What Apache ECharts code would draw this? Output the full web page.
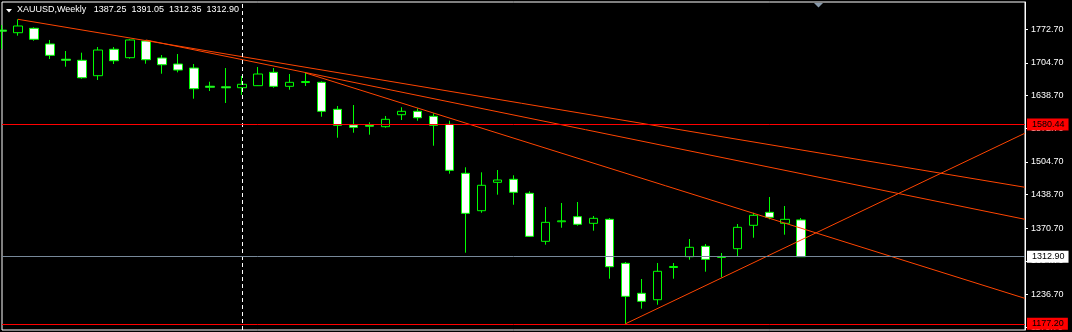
<!DOCTYPE html>
<html><head><meta charset="utf-8">
<script src="https://cdn.jsdelivr.net/npm/echarts@6/dist/echarts.min.js"></script>
<style>html,body{margin:0;padding:0;background:#000;}#c{width:1072px;height:332px;}</style>
</head><body><div id="c"></div>
<script>
// Weekly bar slots (51 bars + empty right-hand shift area)
const categories = ["0","1","2","3","4","5","6","7","8","9","10","11","12","13","14","15","16","17","18","19","20","21","22","23","24","25","26","27","28","29","30","31","32","33","34","35","36","37","38","39","40","41","42","43","44","45","46","47","48","49","50","51","52","53","54","55","56","57","58","59","60","61","62","63","64"];

const opens  = [1771.0,1765.8,1774.7,1743.0,1712.2,1710.0,1678.9,1732.3,1715.3,1749.0,1714.7,1702.5,1694.4,1657.6,1656.4,1654.6,1658.7,1685.7,1657.4,1665.1,1665.5,1610.9,1579.2,1578.8,1575.8,1600.0,1606.9,1596.8,1580.6,1481.5,1405.9,1463.3,1469.4,1441.1,1344.0,1383.6,1393.8,1380.4,1388.5,1299.5,1238.9,1225.9,1291.1,1312.9,1333.9,1311.4,1329.1,1376.4,1402.6,1380.4,1387.25];
const highs  = [1781.4,1792.9,1776.7,1751.1,1728.8,1725.4,1736.9,1736.9,1752.5,1751.1,1720.7,1722.7,1702.5,1666.7,1694.4,1678.3,1696.5,1694.4,1682.3,1684.4,1667.5,1617.6,1619.6,1584.6,1597.4,1615.0,1613.0,1602.8,1587.9,1493.7,1483.5,1488.2,1477.5,1445.1,1413.4,1421.5,1423.5,1395.2,1391.1,1302.2,1267.8,1300.2,1300.2,1348.7,1338.6,1320.4,1379.0,1401.8,1433.6,1415.4,1391.05];
const lows   = [1733.0,1759.8,1749.6,1712.6,1697.1,1672.8,1670.2,1702.5,1713.2,1703.1,1682.9,1685.7,1632.4,1647.9,1623.7,1639.9,1658.0,1654.6,1650.6,1658.1,1596.0,1553.5,1563.6,1559.6,1573.7,1589.3,1587.9,1537.3,1480.7,1321.0,1401.8,1438.3,1418.0,1353.0,1337.2,1371.5,1375.6,1365.5,1268.4,1177.2,1207.8,1215.8,1268.4,1306.8,1282.6,1271.2,1314.3,1351.3,1388.5,1357.4,1312.35];
const closes = [1769.0,1779.4,1752.5,1720.1,1710.2,1674.8,1730.8,1709.2,1751.1,1711.2,1701.1,1690.4,1652.6,1655.6,1654.4,1661.5,1682.3,1657.4,1665.5,1667.1,1606.9,1578.6,1574.5,1576.8,1590.7,1606.9,1593.9,1578.6,1487.6,1400.6,1457.3,1468.0,1443.1,1354.1,1382.4,1385.4,1378.4,1390.5,1292.7,1232.8,1222.7,1283.4,1293.1,1331.9,1307.6,1313.4,1372.3,1396.6,1392.6,1388.5,1312.90];

const yTicks = [1170.70,1236.70,1304.70,1370.70,1438.70,1504.70,1572.70,1638.70,1704.70,1772.70];

// trend lines: [slot, price]
const trendA = [[1,1792.9],[64,1453.3]];
const trendB = [[9,1751.1],[64,1388.5]];
const trendC = [[19,1684.4],[64,1228.6]];
const trendD = [[39,1177.2],[64,1562.7]];

const levelUpper = 1580.44;
const levelLower = 1177.20;
const bidPrice = 1312.90;
const separatorSlot = 15;

const titleText = "XAUUSD,Weekly   1387.25  1391.05  1312.35  1312.90";

const candleData = opens.map((o, i) => [o, closes[i], lows[i], highs[i]]);

const FONT = 'Liberation Sans';
const tagLabel = (bg, fg) => ({
  show: true, position: 'end', distance: 2,
  formatter: p => Number(p.value).toFixed(2),
  backgroundColor: bg, color: fg, padding: [2, 4, 1, 5],
  fontSize: 9, fontFamily: FONT
});

const trendSeries = (d) => ({
  type: 'line', data: d, symbol: 'none', silent: true,
  lineStyle: { color: '#ff4500', width: 1 }, z: 3
});

const chart = echarts.init(document.getElementById('c'), null, { renderer: 'canvas' });
chart.setOption({
  backgroundColor: '#000',
  animation: false,
  title: {
    text: titleText, left: 17, top: 5, padding: 0,
    textStyle: { color: '#fff', fontSize: 9, fontFamily: FONT, fontWeight: 'normal' }
  },
  graphic: [
    { type: 'polygon', shape: { points: [[6, 9], [12, 9], [9, 12.5]] }, style: { fill: '#fff' } },
    { type: 'polygon', shape: { points: [[814, 3], [823, 3], [818.5, 7.5]] }, style: { fill: '#8899aa' } }
  ],
  grid: { left: 2, right: 47, top: 2, bottom: 2, show: true, borderColor: '#fff', borderWidth: 1, backgroundColor: 'transparent' },
  xAxis: { type: 'category', data: categories, boundaryGap: false, show: false },
  yAxis: {
    type: 'value', position: 'right', min: 1164.7, max: 1827.9,
    axisLine: { show: true, lineStyle: { color: '#fff', width: 1 } },
    axisTick: { show: true, customValues: yTicks, length: 3, lineStyle: { color: '#fff' } },
    axisLabel: { customValues: yTicks, color: '#fff', fontSize: 9, fontFamily: FONT, margin: 6, formatter: v => v.toFixed(2) },
    splitLine: { show: false }
  },
  series: [
    {
      type: 'candlestick', data: candleData, barWidth: 9, clip: true,
      itemStyle: {
        color: '#000', color0: '#fff',
        borderColor: '#00ff00', borderColor0: '#00ff00', borderColorDoji: '#00ff00',
        borderWidth: 1
      },
      markLine: {
        silent: true, symbol: ['none', 'none'], animation: false,
        data: [
          { xAxis: separatorSlot, lineStyle: { color: '#fff', type: [4, 3], width: 1 }, label: { show: false } },
          { yAxis: levelUpper, lineStyle: { color: '#ff0000', type: 'solid', width: 1 }, label: tagLabel('#ff0000', '#000') },
          { yAxis: bidPrice, lineStyle: { color: '#778899', type: 'solid', width: 1 }, label: tagLabel('#ffffff', '#000') },
          { yAxis: levelLower, lineStyle: { color: '#ff0000', type: 'solid', width: 1 }, label: tagLabel('#ff0000', '#000') }
        ]
      }
    },
    trendSeries(trendA),
    trendSeries(trendB),
    trendSeries(trendC),
    trendSeries(trendD)
  ]
});
</script></body></html>
